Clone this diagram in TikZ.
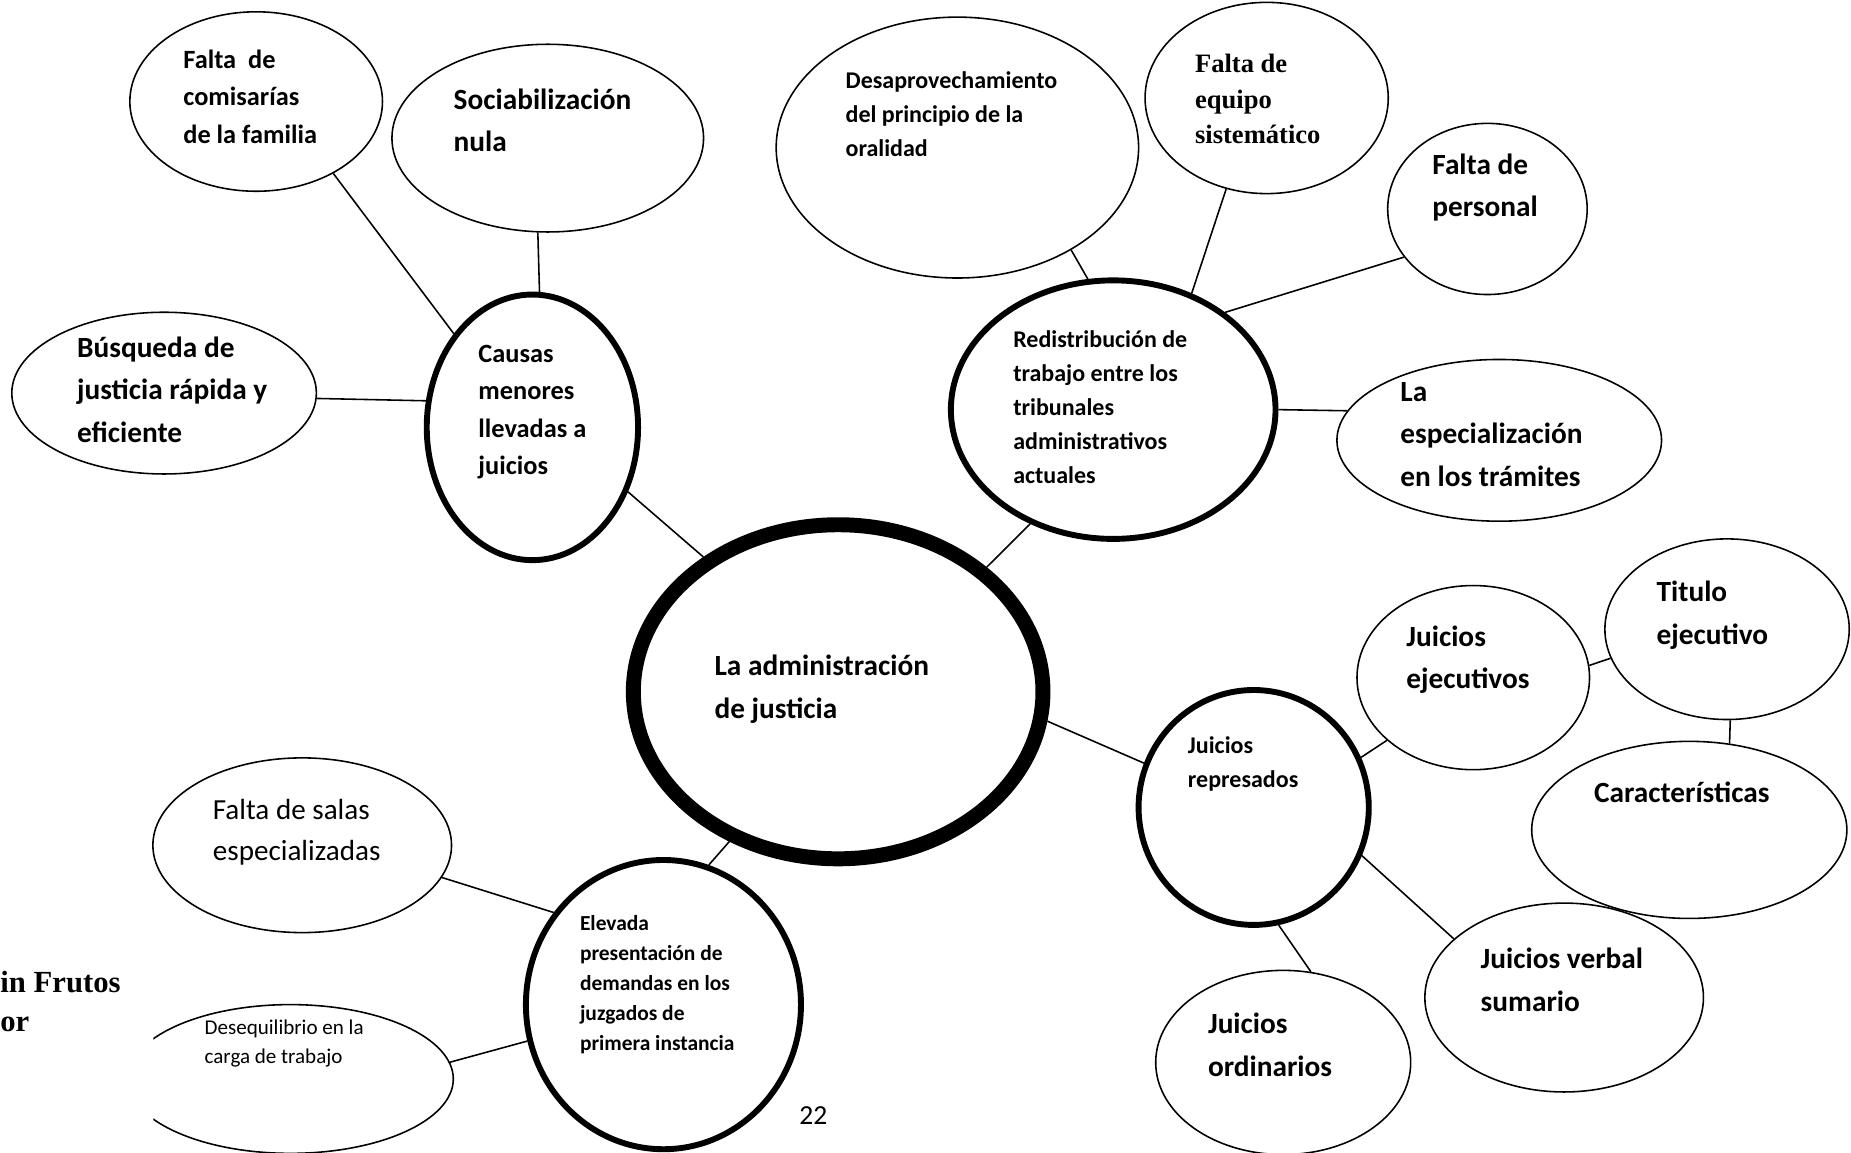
\documentclass[tikz,border=0pt]{standalone}
\usepackage{fontspec}
\setmainfont{Carlito}
\newfontfamily\serifb{Liberation Serif}
\usetikzlibrary{shapes.geometric}

\tikzset{
  bubble/.style={ellipse, draw, line width=0.8pt, inner sep=0pt},
  hub/.style={bubble, line width=3pt},
  core/.style={bubble, line width=7.6pt},
  dims/.style 2 args={minimum width=#1*0.6pt, minimum height=#2*0.6pt},
  txt/.style={align=left, anchor=west, inner sep=0pt},
  bigtxt/.style={txt, font=\fontsize{14.9}{21.6}\selectfont\bfseries},
  midtxt/.style={txt, font=\fontsize{13.4}{19}\selectfont\bfseries},
  smalltxt/.style={txt, font=\fontsize{12.2}{17.3}\selectfont\bfseries},
  link/.style={line width=0.8pt}
}

\begin{document}
\begin{tikzpicture}[x=0.6pt, y=-0.6pt]
\useasboundingbox (0,0) rectangle (1568,976);
% Centre
\node[core, dims={347}{283}] (admin) at (710,586) {};
\node[bigtxt] (admin-t) at (605,584) {La administración\\de justicia};
% Causas menores
\node[hub, dims={179}{225}] (causas) at (451,362) {};
\node[midtxt] (causas-t) at (405,349) {Causas\\menores\\llevadas a\\juicios};
\node[bubble, dims={214}{152}] (comis) at (217,86) {};
\node[midtxt] (comis-t) at (155,82) {Falta\ \ de\\comisarías\\de la familia};
\node[bubble, dims={264}{159}] (social) at (464,117) {};
\node[bigtxt] (social-t) at (384,102) {Sociabilización\\nula};
\node[bubble, dims={258}{137}] (busq) at (139,333) {};
\node[bigtxt] (busq-t) at (65,330) {Búsqueda de\\justicia rápida y\\eficiente};
% Redistribucion
\node[hub, dims={275}{219}] (redis) at (943,347) {};
\node[smalltxt] (redis-t) at (858,345) {Redistribución de\\trabajo entre los\\tribunales\\administrativos\\actuales};
\node[bubble, dims={307}{221}] (desap) at (811,125) {};
\node[smalltxt] (desap-t) at (716,97) {Desaprovechamiento\\del principio de la\\oralidad};
\node[bubble, dims={206}{162}] (equipo) at (1073,83) {};
\node[txt, font=\serifb\fontsize{13.5}{18}\selectfont\bfseries] (equipo-t) at (1012,84) {Falta de\\equipo\\sistemático};
\node[bubble, dims={169}{145}] (personal) at (1260,177) {};
\node[bigtxt] (personal-t) at (1213,159) {Falta de\\personal};
\node[bubble, dims={275}{137}] (espec) at (1270,373) {};
\node[bigtxt] (espec-t) at (1186,368) {La\\especialización\\en los trámites};
% Juicios represados
\node[hub, dims={195}{199}] (repres) at (1062,684) {};
\node[smalltxt] (repres-t) at (1006,647) {Juicios\\represados};
\node[bubble, dims={197}{156}] (ejecut) at (1248,574) {};
\node[bigtxt] (ejecut-t) at (1191,559) {Juicios\\ejecutivos};
\node[bubble, dims={207}{153}] (titulo) at (1463,533) {};
\node[bigtxt] (titulo-t) at (1403,521) {Titulo\\ejecutivo};
\node[bubble, dims={267}{150}] (caract) at (1431,703) {};
\node[bigtxt] (caract-t) at (1350,671) {Características};
\node[bubble, dims={236}{160}] (verbal) at (1325,845) {};
\node[bigtxt] (verbal-t) at (1254,830) {Juicios verbal\\sumario};
\node[bubble, dims={216}{156}] (ordin) at (1087,900) {};
\node[bigtxt] (ordin-t) at (1023,885) {Juicios\\ordinarios};
% Elevada presentacion
\node[hub, dims={233}{245}] (elev) at (562,851) {};
\node[txt, font=\fontsize{10.9}{15.3}\selectfont\bfseries] (elev-t) at (491,834) {Elevada\\presentación de\\demandas en los\\juzgados de\\primera instancia};
\node[bubble, dims={253}{148}] (salas) at (256,716) {};
\node[txt, font=\fontsize{14.8}{21}\selectfont] (salas-t) at (180,705) {Falta de salas\\especializadas};
\begin{scope}
  \clip (130,800) rectangle (420,976);
  \node[bubble, dims={276}{126}] (deseq) at (246,914) {};
\end{scope}
\node[txt, font=\fontsize{10.7}{15}\selectfont] (deseq-t) at (173,884) {Desequilibrio en la\\carga de trabajo};
% Page leftovers
\node[txt, font=\serifb\fontsize{15.6}{19.8}\selectfont\bfseries] (frutos) at (0,848) {in Frutos\\or};
\node[font=\fontsize{14}{16}\selectfont, inner sep=0pt] (page) at (689,945) {22};
% Links
\draw[link] (causas.130) -- (comis.-43);
\draw[link] (causas.87) -- (social.264);
\draw[link] (causas.166) -- (busq.-2);
\draw[link] (causas.-34) -- (admin.135);
\draw[link] (redis.101) -- (desap.-42);
\draw[link] (redis.56) -- (equipo.246);
\draw[link] (redis.41) -- (personal.210);
\draw[link] (redis.0) -- (espec.169);
\draw[link] (redis.234) -- (admin.40);
\draw[link] (admin.-8) -- (repres.158);
\draw[link] (repres.25) -- (ejecut.216);
\draw[link] (repres.-24) -- (verbal.152);
\draw[link] (repres.-78) -- (ordin.73);
\draw[link] (ejecut.6) -- (titulo.194);
\draw[link] (titulo.-88) -- (caract.65);
\draw[link] (admin.234) -- (elev.72);
\draw[link] (elev.140) -- (salas.-13);
\draw[link] (elev.195) -- (deseq.6);
\end{tikzpicture}
\end{document}
